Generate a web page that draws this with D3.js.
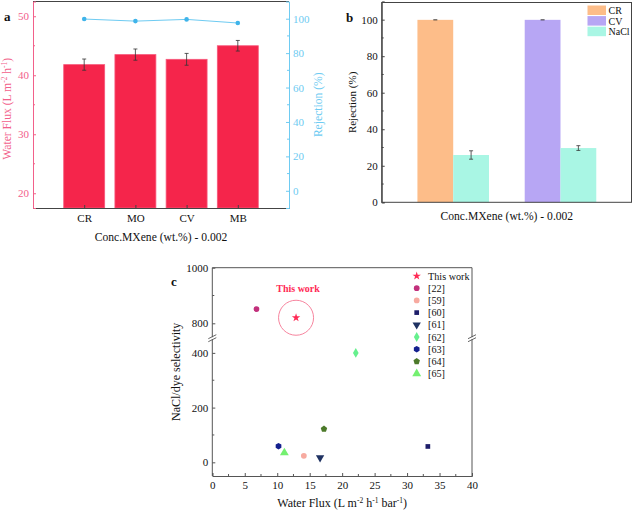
<!DOCTYPE html>
<html><head><meta charset="utf-8">
<script src="https://cdn.jsdelivr.net/npm/d3@7"></script>
<style>
body{margin:0;background:#fff}
svg text{font-family:"Liberation Serif","Times New Roman",serif}
</style></head>
<body><svg id="c" width="633" height="515" font-family="Liberation Serif"></svg>
<script>
// ---------- DATA ----------
const dyesA = ["CR","MO","CV","MB"];
const fluxA = [41.8, 43.5, 42.7, 45.0];
const fluxErrA = [0.95, 0.95, 1.0, 0.9];
const rejA = [99.8, 98.6, 99.6, 97.5];

const seriesB = ["CR","CV","NaCl"];
const groupsB = ["CR","CV"];
const dyeRejB = [99.9, 99.9];
const naclRejB = [25.9, 29.7];
const naclErrB = [2.3, 1.3];

const labelsC = ["This work","[22]","[59]","[60]","[61]","[62]","[63]","[64]","[65]"];
const fluxC = [12.9, 6.8, 14.1, 33.2, 16.6, 22.1, 10.2, 17.2, 11.1];
const selC = [820, 851, 24, 58, 17, 400, 59, 122, 35];
const symC = ["star","circle","circle","square","tridown","diamond","hexagon","pentagon","triangle"];
const colC = ["#ff2a55","#c2307c","#f7aaa0","#1e1e6a","#1f3262","#66f08e","#14208e","#4c7a2a","#74f070"];

const yTicksAL = [20,30,40,50];
const yTicksAR = [0,20,40,60,80,100];
const yTicksB = [0,20,40,60,80,100];
const xTicksC = [0,5,10,15,20,25,30,35,40];
const yTicksCLow = [0,200,400];
const yTicksCUp = [800,1000];

const svg = d3.select("#c");
const FS = 11, TF = 11.6, SERIF = "Liberation Serif";
function styleAxis(ga, color, textColor){
  ga.attr("font-family", SERIF);
  ga.select(".domain").attr("stroke", color);
  ga.selectAll(".tick line").attr("stroke", color);
  ga.selectAll("text").attr("font-size", FS).attr("fill", textColor).attr("font-family", SERIF);
}
function supTitle(t, parts){
  parts.forEach(p=>{
    if(p[1]) t.append("tspan").attr("font-size",7.5).attr("dy",-4.5).text(p[0]);
    else t.append("tspan").attr("dy",p[2]||0).text(p[0]);
  });
}

// ---------- PANEL A ----------
{
  const L=33,R=289,T=1.5,B=208;
  const pink="#f2608a", blue="#6ecbf2", barC="#f5254b";
  const x=d3.scaleLinear().domain([0,5]).range([L,R]);
  const yL=d3.scaleLinear().domain([17.5,52.5]).range([B,T]);
  const yR=d3.scaleLinear().domain([-10,110]).range([B,T]);
  const g=svg.append("g");
  g.selectAll("rect.bar").data(dyesA).join("rect").attr("class","bar")
    .attr("x",(d,i)=>x(i+1)-x(0.4)+x(0)).attr("width",x(0.8)-x(0))
    .attr("y",(d,i)=>yL(fluxA[i])).attr("height",(d,i)=>B-yL(fluxA[i]))
    .attr("fill",barC).attr("stroke","#f7587a").attr("stroke-width",0.8);
  dyesA.forEach((d,i)=>{
    const cx=x(i+1), y1=yL(fluxA[i]-fluxErrA[i]), y2=yL(fluxA[i]+fluxErrA[i]);
    g.append("line").attr("x1",cx).attr("x2",cx).attr("y1",y1).attr("y2",y2).attr("stroke","#333").attr("stroke-width",0.8);
    [y1,y2].forEach(yy=>g.append("line").attr("x1",cx-2).attr("x2",cx+2).attr("y1",yy).attr("y2",yy).attr("stroke","#333").attr("stroke-width",0.8));
  });
  const line=d3.line().x((d,i)=>x(i+1)).y(d=>yR(d));
  g.append("path").datum(rejA).attr("d",line).attr("fill","none").attr("stroke",blue).attr("stroke-width",1);
  g.selectAll("circle.rj").data(rejA).join("circle").attr("class","rj")
    .attr("cx",(d,i)=>x(i+1)).attr("cy",d=>yR(d)).attr("r",2.3).attr("fill","#3fb4ea");
  g.append("line").attr("x1",L).attr("x2",R).attr("y1",T).attr("y2",T).attr("stroke","#444");
  const ax=d3.axisBottom(x).tickValues([1,2,3,4]).tickSize(-3).tickPadding(6).tickFormat((d)=>dyesA[d-1]);
  styleAxis(g.append("g").attr("transform",`translate(0,${B})`).call(ax),"#444","#111");
  const al=d3.axisLeft(yL).tickValues(yTicksAL).tickSize(-3).tickPadding(4);
  styleAxis(g.append("g").attr("transform",`translate(${L},0)`).call(al),pink,pink);
  [25,35,45].forEach(v=>g.append("line").attr("x1",L).attr("x2",L+2).attr("y1",yL(v)).attr("y2",yL(v)).attr("stroke",pink));
  const ar=d3.axisRight(yR).tickValues(yTicksAR).tickSize(-3).tickPadding(4);
  styleAxis(g.append("g").attr("transform",`translate(${R},0)`).call(ar),blue,blue);
  [10,30,50,70,90].forEach(v=>g.append("line").attr("x1",R).attr("x2",R-2).attr("y1",yR(v)).attr("y2",yR(v)).attr("stroke",blue));
  const tl=g.append("text").attr("transform",`translate(11,${(T+B)/2+4}) rotate(-90)`).attr("text-anchor","middle").attr("font-size",TF).attr("font-family",SERIF).attr("fill",pink);
  supTitle(tl,[["Water Flux (L m"],["-2",1],[" h",0,4.5],["-1",1],[")",0,4.5]]);
  g.append("text").attr("transform",`translate(322,${(T+B)/2}) rotate(-90)`).attr("text-anchor","middle").attr("font-size",TF).attr("font-family",SERIF).attr("fill",blue).text("Rejection (%)");
  g.append("text").attr("x",(L+R)/2).attr("y",241).attr("text-anchor","middle").attr("font-size",TF).attr("font-family",SERIF).attr("fill","#111").text("Conc.MXene (wt.%) - 0.002");
  g.append("text").attr("x",4).attr("y",21).attr("font-size",13).attr("font-weight","bold").attr("font-family",SERIF).attr("fill","#111").text("a");
}

// ---------- PANEL B ----------
{
  const L=381.7,R=632,T=2.5,B=202.3;
  const cols={"CR":"#fdbd89","CV":"#b7a6f4","NaCl":"#a9f6e4"};
  const x0=d3.scaleBand().domain(groupsB).range([L,R]).paddingInner(0.333).paddingOuter(0.333);
  const x1=d3.scaleBand().domain(["dye","NaCl"]).range([0,x0.bandwidth()]);
  const y=d3.scaleLinear().domain([0,110]).range([B,1.4]);
  const g=svg.append("g");
  groupsB.forEach((gname,i)=>{
    const gx=x0(gname);
    g.append("rect").attr("x",gx+x1("dye")).attr("width",x1.bandwidth()).attr("y",y(dyeRejB[i])).attr("height",B-y(dyeRejB[i])).attr("fill",cols[gname]);
    g.append("rect").attr("x",gx+x1("NaCl")).attr("width",x1.bandwidth()).attr("y",y(naclRejB[i])).attr("height",B-y(naclRejB[i])).attr("fill",cols.NaCl);
    const cx=gx+x1("dye")+x1.bandwidth()/2;
    g.append("line").attr("x1",cx-2).attr("x2",cx+2).attr("y1",y(dyeRejB[i])).attr("y2",y(dyeRejB[i])).attr("stroke","#333");
    const nx=gx+x1("NaCl")+x1.bandwidth()/2;
    const ya=y(naclRejB[i]-naclErrB[i]), yb=y(naclRejB[i]+naclErrB[i]);
    g.append("line").attr("x1",nx).attr("x2",nx).attr("y1",ya).attr("y2",yb).attr("stroke","#333").attr("stroke-width",0.8);
    [ya,yb].forEach(yy=>g.append("line").attr("x1",nx-2).attr("x2",nx+2).attr("y1",yy).attr("y2",yy).attr("stroke","#333").attr("stroke-width",0.8));
  });
  g.append("rect").attr("x",L).attr("y",T).attr("width",R-L-0.5).attr("height",B-T).attr("fill","none").attr("stroke","#444");
  const ay=d3.axisLeft(y).tickValues(yTicksB).tickSize(-3).tickPadding(4);
  styleAxis(g.append("g").attr("transform",`translate(${L},0)`).call(ay),"#444","#111");
  [10,30,50,70,90].forEach(v=>g.append("line").attr("x1",L).attr("x2",L+2).attr("y1",y(v)).attr("y2",y(v)).attr("stroke","#444"));
  g.append("text").attr("transform",`translate(356,${(T+B)/2}) rotate(-90)`).attr("text-anchor","middle").attr("font-size",FS).attr("font-family",SERIF).attr("fill","#111").text("Rejection (%)");
  g.append("text").attr("x",(L+R)/2).attr("y",220).attr("text-anchor","middle").attr("font-size",TF).attr("font-family",SERIF).attr("fill","#111").text("Conc.MXene (wt.%) - 0.002");
  g.append("text").attr("x",346).attr("y",22).attr("font-size",13).attr("font-weight","bold").attr("font-family",SERIF).attr("fill","#111").text("b");
  seriesB.forEach((s,i)=>{
    g.append("rect").attr("x",587.5).attr("y",5.5+i*10.6).attr("width",18.5).attr("height",9.5).attr("fill",cols[s]);
    g.append("text").attr("x",608.5).attr("y",14+i*10.6).attr("font-size",10).attr("font-family",SERIF).attr("fill","#111").text(s);
  });
}

// ---------- PANEL C ----------
{
  const L=212.3,R=472,T=267.7,B=476;
  const x=d3.scaleLinear().domain([0,40]).range([L,R]);
  const yLo=d3.scaleLinear().domain([-50,450]).range([B,339.2]);
  const yUp=d3.scaleLinear().domain([750,1000]).range([337.2,T]);
  const yy=v=>v>=600?yUp(v):yLo(v);
  const g=svg.append("g");
  g.append("line").attr("x1",L).attr("x2",R).attr("y1",T).attr("y2",T).attr("stroke","#555");
  const ax=d3.axisBottom(x).tickValues(xTicksC).tickSize(-3).tickPadding(5);
  styleAxis(g.append("g").attr("transform",`translate(0,${B})`).call(ax),"#555","#111");
  d3.range(2.5,40,5).forEach(v=>g.append("line").attr("x1",x(v)).attr("x2",x(v)).attr("y1",B).attr("y2",B-2).attr("stroke","#555"));
  [[L,-1],[R,1]].forEach(([px,side])=>{
    g.append("line").attr("x1",px).attr("x2",px).attr("y1",B).attr("y2",yLo(450)).attr("stroke","#555");
    g.append("line").attr("x1",px).attr("x2",px).attr("y1",yUp(750)).attr("y2",T).attr("stroke","#555");
    const by=(yLo(450)+yUp(750))/2;
    [-1.5,1.5].forEach(o=>g.append("line").attr("x1",px-4).attr("x2",px+4).attr("y1",by+o+2).attr("y2",by+o-2).attr("stroke","#555").attr("stroke-width",0.9));
  });
  const fmt=d3.format("d");
  const gyl=g.append("g").attr("transform",`translate(${L},0)`).call(d3.axisLeft(yLo).tickValues(yTicksCLow).tickFormat(fmt).tickSize(-3).tickPadding(4));
  const gyu=g.append("g").attr("transform",`translate(${L},0)`).call(d3.axisLeft(yUp).tickValues(yTicksCUp).tickFormat(fmt).tickSize(-3).tickPadding(4));
  [gyl,gyu].forEach(ga=>{ styleAxis(ga,"#555","#111"); ga.select(".domain").remove(); });
  [100,300].forEach(v=>g.append("line").attr("x1",L).attr("x2",L+2).attr("y1",yLo(v)).attr("y2",yLo(v)).attr("stroke","#555"));
  g.append("line").attr("x1",L).attr("x2",L+2).attr("y1",yUp(900)).attr("y2",yUp(900)).attr("stroke","#555");
  const symMap={star:d3.symbolStar,circle:d3.symbolCircle,square:d3.symbolSquare,diamond:d3.symbolDiamond,triangle:d3.symbolTriangle};
  function symPath(type,size){
    if(type==="tridown") return d3.symbol(d3.symbolTriangle,size)();
    if(type==="hexagon"||type==="pentagon"){
      const n=type==="hexagon"?6:5, r=Math.sqrt(size/2.6);
      return d3.line()(d3.range(n).map(k=>{const a=-Math.PI/2+k*2*Math.PI/n;return [r*Math.cos(a),r*Math.sin(a)];}))+"Z";
    }
    return d3.symbol(symMap[type],size)();
  }
  const sizes={star:22,circle:26,square:22,tridown:30,diamond:28,hexagon:28,pentagon:30,triangle:34};
  labelsC.forEach((lab,i)=>{
    const rot=symC[i]==="tridown"?" rotate(180)":"";
    g.append("path").attr("d",symPath(symC[i],sizes[symC[i]])).attr("fill",colC[i])
      .attr("transform",`translate(${x(fluxC[i])},${yy(selC[i])})${rot}`);
    const ly=276+i*12.2;
    g.append("path").attr("d",symPath(symC[i],sizes[symC[i]])).attr("fill",colC[i])
      .attr("transform",`translate(416.7,${ly})${rot}`);
    g.append("text").attr("x",428).attr("y",ly+3.6).attr("font-size",10.2).attr("font-family",SERIF).attr("fill","#111").text(lab);
  });
  g.append("circle").attr("cx",x(fluxC[0])).attr("cy",yy(selC[0])).attr("r",17.5).attr("fill","none").attr("stroke","#f7849e").attr("stroke-width",1);
  g.append("text").attr("x",x(fluxC[0])+2).attr("y",292).attr("text-anchor","middle").attr("font-size",10).attr("font-weight","bold").attr("font-family",SERIF).attr("fill","#ff2a55").text("This work");
  g.append("text").attr("transform",`translate(180,${(T+B)/2}) rotate(-90)`).attr("text-anchor","middle").attr("font-size",12).attr("font-family",SERIF).attr("fill","#111").text("NaCl/dye selectivity");
  const xt=g.append("text").attr("x",(L+R)/2).attr("y",507).attr("text-anchor","middle").attr("font-size",12).attr("font-family",SERIF).attr("fill","#111");
  supTitle(xt,[["Water Flux (L m"],["-2",1],[" h",0,4.5],["-1",1],[" bar",0,4.5],["-1",1],[")",0,4.5]]);
  g.append("text").attr("x",171).attr("y",286).attr("font-size",13).attr("font-weight","bold").attr("font-family","Liberation Sans").attr("fill","#111").text("c");
}
</script></body></html>
